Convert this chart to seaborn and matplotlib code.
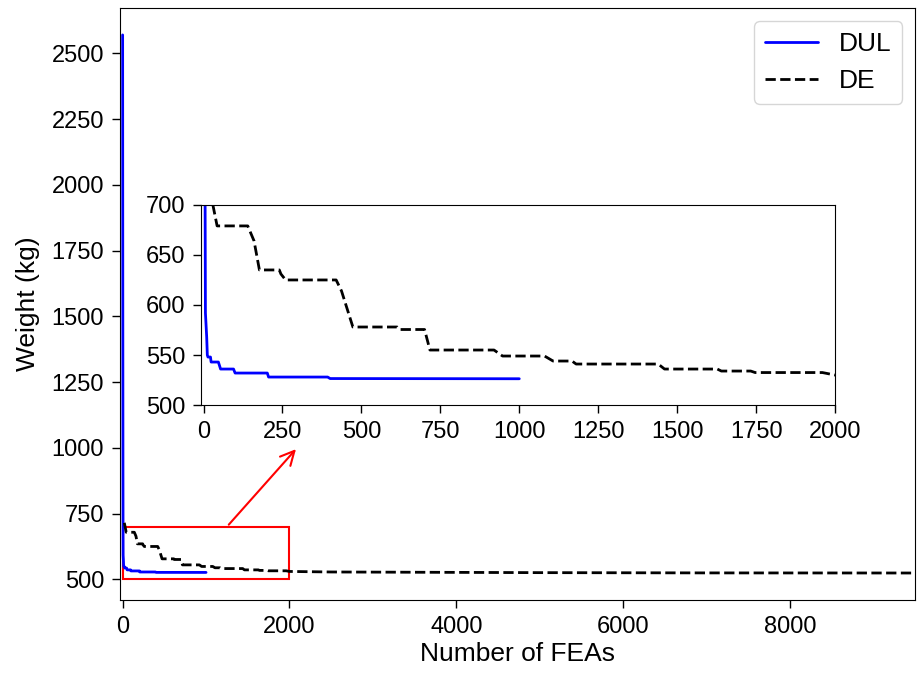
import numpy as np
import pandas as pd
import matplotlib
matplotlib.use("Agg")
import matplotlib.pyplot as plt
import seaborn as sns
from matplotlib.patches import Rectangle

# --- DATA ---
dul_fea = [0, 2, 4, 5, 6, 8, 10, 12, 14, 22, 24, 47, 54, 95, 100, 202, 206, 393, 401, 1000]
dul_weight = [2570, 1600, 900, 700, 592, 580, 568, 550, 548, 548, 543, 543, 536, 536, 532, 532,
              528, 528, 526.5, 526.3]

de_fea = [20, 43, 140, 160, 177, 240, 245, 260, 420, 437, 473, 613, 620, 700, 717, 920, 947,
          1080, 1107, 1167, 1180, 1440, 1460, 1627, 1640, 1733, 1747, 1960, 2000, 2500,
          3500, 5000, 7000, 10000]
de_weight = [715, 679, 679, 664, 635, 635, 631, 625, 625, 614, 578, 578, 575.5, 575.5, 555,
             555, 549, 549, 544, 544, 541, 541, 536, 536, 534, 534, 532.5, 532.5, 530, 528,
             527, 525.5, 524.5, 524]

dul = pd.DataFrame({"FEA": dul_fea, "Weight": dul_weight})
de = pd.DataFrame({"FEA": de_fea, "Weight": de_weight})

sns.set_style("ticks")
plt.rcParams["font.family"] = ["Liberation Sans", "DejaVu Sans"]
plt.rcParams["text.color"] = "black"
plt.rcParams["axes.labelcolor"] = "black"
plt.rcParams["xtick.color"] = "black"
plt.rcParams["ytick.color"] = "black"

fig = plt.figure(figsize=(9.17, 6.74), dpi=100)
ax = fig.add_axes([0.131, 0.110, 0.867, 0.878])


def draw(a):
    sns.lineplot(data=dul, x="FEA", y="Weight", ax=a, color="blue", lw=2, label="DUL",
                 estimator=None, sort=False)
    sns.lineplot(data=de, x="FEA", y="Weight", ax=a, color="black", lw=2, label="DE",
                 linestyle="--", estimator=None, sort=False)


def style_ticks(a):
    a.tick_params(labelsize=17, color="black", labelcolor="black", width=1, length=5.5, pad=6)
    for s in a.spines.values():
        s.set_color("black")


draw(ax)
ax.set_xlim(-30, 9500)
ax.set_ylim(422, 2672)
ax.set_xticks([0, 2000, 4000, 6000, 8000])
ax.set_yticks([500, 750, 1000, 1250, 1500, 1750, 2000, 2250, 2500])
ax.set_xlabel("Number of FEAs", fontsize=19, labelpad=3)
ax.set_ylabel("Weight (kg)", fontsize=19, labelpad=8)
style_ticks(ax)
leg = ax.legend(loc="upper right", fontsize=19)
for t in leg.get_texts():
    t.set_color("black")

# zoom box and arrow
ax.add_patch(Rectangle((0, 500), 2000, 200, fill=False, edgecolor="red", lw=1.5))
ax.annotate("", xy=(2100, 1003), xytext=(1250, 700),
            arrowprops=dict(arrowstyle="->", color="red", lw=1.5, mutation_scale=25))

# inset
axins = fig.add_axes([0.2192, 0.399, 0.6914, 0.297])
draw(axins)
axins.get_legend().remove()
axins.set_xlim(-8, 2000)
axins.set_ylim(500, 700)
axins.set_xticks([0, 250, 500, 750, 1000, 1250, 1500, 1750, 2000])
axins.set_yticks([500, 550, 600, 650, 700])
axins.set_xlabel("")
axins.set_ylabel("")
style_ticks(axins)

fig.savefig("out.png", dpi=100)
